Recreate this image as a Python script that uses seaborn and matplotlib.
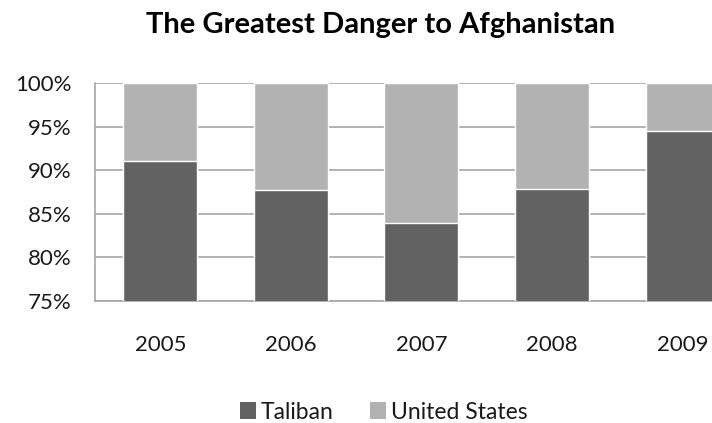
import matplotlib
matplotlib.use("Agg")
import matplotlib.pyplot as plt
import seaborn as sns
import pandas as pd
from matplotlib.patches import Patch

years = ["2005", "2006", "2007", "2008", "2009"]
taliban = [91.1, 87.7, 83.9, 87.85, 94.5]
united_states = [8.9, 12.3, 16.1, 12.15, 5.5]
y_ticks = [75, 80, 85, 90, 95, 100]

sns.set_theme(style="white")
plt.rcParams["font.family"] = ["Lato", "DejaVu Sans"]

TAL_COLOR = "#626262"
US_COLOR = "#b2b2b2"
GRID_COLOR = "#a6a6a6"

df = pd.DataFrame({"year": years, "Taliban": taliban, "United States": united_states})
df["total"] = df["Taliban"] + df["United States"]

fig = plt.figure(figsize=(7.12, 4.23), dpi=100)
ax = fig.add_axes([0.1334, 0.289, 0.917, 0.514])

# stacked bars: full stack in the upper colour, Taliban share drawn over it
sns.barplot(data=df, x="year", y="total", color=US_COLOR, width=0.567,
            saturation=1, ax=ax, zorder=3)
sns.barplot(data=df, x="year", y="Taliban", color=TAL_COLOR, width=0.567,
            saturation=1, ax=ax, zorder=4)

ax.set_xlim(-0.5, 4.5)
ax.set_ylim(75, 100)
ax.set_yticks(y_ticks)
ax.set_yticklabels([f"{t}%" for t in y_ticks])
ax.yaxis.grid(True, color=GRID_COLOR, linewidth=1.2, zorder=1)
ax.set_axisbelow(True)
ax.set_xlabel("")
ax.set_ylabel("")

for side in ("top", "right"):
    ax.spines[side].set_visible(False)
for side in ("left", "bottom"):
    ax.spines[side].set_color(GRID_COLOR)
    ax.spines[side].set_linewidth(1.2)

ax.tick_params(axis="both", length=0, labelsize=16, colors="#1a1a1a")
ax.tick_params(axis="y", pad=17)
ax.tick_params(axis="x", pad=25)

fig.text(0.535, 1 - 32.7 / 423, "The Greatest Danger to Afghanistan",
         ha="center", va="baseline", fontsize=21, fontweight="bold",
         color="#000000")

handles = [Patch(facecolor=TAL_COLOR, edgecolor="none", label="Taliban"),
           Patch(facecolor=US_COLOR, edgecolor="none", label="United States")]
fig.legend(handles=handles, loc="center", bbox_to_anchor=(0.539, 0.026),
           ncol=2, frameon=False, fontsize=16.5, handlelength=0.7,
           handleheight=0.7, handletextpad=0.2, columnspacing=1.6,
           labelcolor="#1a1a1a")

fig.savefig("out.png", dpi=100)
